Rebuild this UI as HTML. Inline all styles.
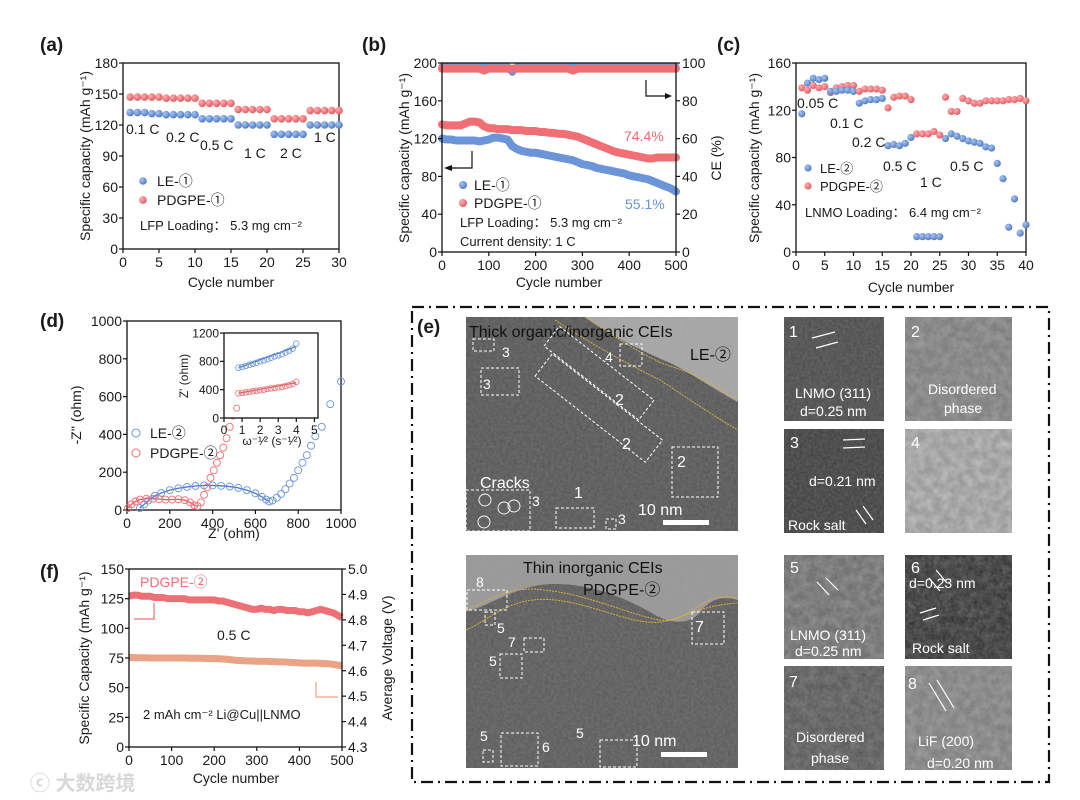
<!DOCTYPE html>
<html><head><meta charset="utf-8">
<style>
html,body{margin:0;padding:0;background:#fff;}
svg{display:block;font-family:"Liberation Sans","Noto Sans CJK SC",sans-serif;}
</style></head>
<body>
<svg id="fig" width="1080" height="800" viewBox="0 0 1080 800" xmlns="http://www.w3.org/2000/svg">
<defs>
<radialGradient id="gB" cx="0.35" cy="0.35" r="0.7"><stop offset="0" stop-color="#a9c4ee"/><stop offset="1" stop-color="#4a78c4"/></radialGradient>
<radialGradient id="gR" cx="0.35" cy="0.35" r="0.7"><stop offset="0" stop-color="#ffb0b3"/><stop offset="1" stop-color="#e0575d"/></radialGradient>
<filter id="noise" x="0" y="0" width="100%" height="100%">
<feTurbulence type="fractalNoise" baseFrequency="0.35" numOctaves="2" seed="3"/>
<feColorMatrix type="matrix" values="0 0 0 0 0.4  0 0 0 0 0.4  0 0 0 0 0.4  0.6 0 0 0 0"/>
</filter>
<filter id="noise2" x="0" y="0" width="100%" height="100%">
<feTurbulence type="fractalNoise" baseFrequency="0.12" numOctaves="2" seed="7"/>
<feColorMatrix type="matrix" values="0 0 0 0 0.95  0 0 0 0 0.95  0 0 0 0 0.95  1.2 0 0 0 -0.35"/>
</filter>
</defs>
<g id="root"></g>
</svg>
<script>
// ---------- data ----------
const aCycles=[1,2,3,4,5,6,7,8,9,10,11,12,13,14,15,16,17,18,19,20,21,22,23,24,25,26,27,28,29,30];
const aLE=[132,132,132,131,131,130,130,130,130,130,126,126,126,126,126,120,120,120,120,120,111,111,111,111,111,120,120,120,120,120];
const aPD=[147,147,147,147,147,146,146,146,146,146,141,141,141,141,141,135,135,135,135,135,126,126,126,126,126,134,134,134,134,134];
const bCycles=[0,10,20,30,40,50,60,70,80,90,100,110,120,130,140,150,160,170,180,190,200,210,220,230,240,250,260,270,280,290,300,310,320,330,340,350,360,370,380,390,400,410,420,430,440,450,460,470,480,490,500];
const bLE=[120,119,119,118,118,118,118,118,117,118,119,121,121,120,119,112,109,107,106,105,105,104,103,102,101,100,99,98,97,95,93,92,91,89,88,87,86,85,84,83,81,80,79,78,77,75,73,71,69,67,64];
const bPD=[135,134,134,134,134,136,138,138,137,133,131,131,130,130,130,129,129,129,128,128,128,127,127,126,126,125,125,124,123,122,120,118,116,114,112,110,108,106,105,104,103,102,101,100,99,99,100,100,100,100,100];
const bCELE=[98,98,98,98,98,98,98,98,98,98,98,98,98,98,98,95,98,98,98,98,98,98,98,98,98,98,98,98,98,98,98,98,98,98,98,98,98,98,98,98,98,98,98,98,98,98,98,98,98,98,98];
const bCEPD=[97,97,97,97,97,97,97,97,97,96,97,97,97,97,97,97,97,97,97,97,97,97,97,97,97,97,97,97,96,97,97,97,97,97,97,97,97,97,97,97,97,97,97,97,97,97,97,97,97,97,97];
const cCycles=[1,2,3,4,5,6,7,8,9,10,11,12,13,14,15,16,17,18,19,20,21,22,23,24,25,26,27,28,29,30,31,32,33,34,35,36,37,38,39,40];
const cLE=[117,143,147,146,147,136,136,137,137,136,126,128,129,129,130,90,91,90,92,97,13,13,13,13,13,96,100,98,96,94,93,92,89,88,75,62,21,45,16,23];
const cPD=[139,137,141,139,140,135,139,140,141,141,136,138,138,138,137,122,131,132,132,129,100,100,100,102,99,131,119,119,130,128,126,126,128,128,128,128,129,129,130,128];
const dLEx=[60,80,100,130,160,200,240,280,320,360,400,440,480,520,560,600,630,650,665,680,700,720,740,760,780,800,820,840,860,880,910,950,1000];
const dLEy=[10,30,50,75,90,105,115,122,127,130,130,128,124,117,105,88,70,55,45,50,65,85,110,140,170,210,250,290,340,390,440,560,680];
const dPDx=[5,20,40,60,90,120,150,180,210,240,270,295,315,330,345,360,375,390,405,420,435,450,465,480,495];
const dPDy=[10,30,45,55,60,60,58,55,55,57,52,40,25,20,40,80,120,170,210,250,290,330,380,440,500];
const iX=[0.8,1.0,1.2,1.4,1.6,1.8,2.0,2.2,2.4,2.6,2.8,3.0,3.2,3.4,3.6,3.8,4.0];
const iLE=[710,720,735,750,765,780,800,815,830,850,870,885,900,925,950,980,1050];
const iPD=[350,355,362,370,378,385,392,400,410,418,425,433,440,450,465,480,510];
const iPDout=[0.7,140];
const fCycles=bCycles;
const fCap=[127,128,128,127,127,127,126,126,126,125,125,125,125,125,124,124,124,124,124,124,124,123,123,122,121,120,119,118,117,116,116,117,116,116,115,116,116,115,115,115,114,114,113,114,115,116,115,114,113,111,109];
const fVolt=[4.652,4.652,4.651,4.651,4.651,4.650,4.650,4.650,4.650,4.650,4.650,4.650,4.650,4.650,4.649,4.649,4.649,4.649,4.648,4.648,4.648,4.647,4.646,4.645,4.643,4.641,4.640,4.639,4.638,4.638,4.637,4.637,4.637,4.636,4.636,4.635,4.635,4.634,4.633,4.632,4.631,4.630,4.630,4.630,4.630,4.629,4.628,4.627,4.625,4.622,4.620];
const aXTicks=[0,5,10,15,20,25,30], aYTicks=[0,30,60,90,120,150,180];
const bXTicks=[0,100,200,300,400,500], bYTicks=[0,40,80,120,160,200], bRTicks=[0,20,40,60,80,100];
const cXTicks=[0,5,10,15,20,25,30,35,40], cYTicks=[0,40,80,120,160];
const dXTicks=[0,200,400,600,800,1000], dYTicks=[0,200,400,600,800,1000];
const iXTicks=[0,1,2,3,4,5], iYTicks=[0,400,800,1200];
const fXTicks=[0,100,200,300,400,500], fYTicks=[0,25,50,75,100,125,150], fRTicks=["4.3","4.4","4.5","4.6","4.7","4.8","4.9","5.0"];

// ---------- helpers ----------
const NS="http://www.w3.org/2000/svg";
const root=document.getElementById('root');
function mk(parent,tag,attrs){const e=document.createElementNS(NS,tag);for(const k in attrs)e.setAttribute(k,attrs[k]);parent.appendChild(e);return e;}
function txt(parent,x,y,s,size,extra){const t=mk(parent,'text',Object.assign({x:x,y:y,'font-size':size,fill:'#1a1a1a'},extra||{}));t.textContent=s;return t;}
function lin(x0,x1,p0,p1){return v=>p0+(v-x0)/(x1-x0)*(p1-p0);}
function frame(g,L,T,R,B){const r=mk(g,'rect',{x:L,y:T,width:R-L,height:B-T,fill:'none',stroke:'#111','stroke-width':1.3});}
function xAxis(g,ticks,sx,B,size){ticks.forEach(v=>{const x=sx(v);const l=mk(g,'line',{x1:x,x2:x,y1:B,y2:B+4,stroke:'#111','stroke-width':1.2});const t=txt(g,x,B+4+size,String(v),size,{'text-anchor':'middle'});});}
function yAxis(g,ticks,sy,L,size){ticks.forEach(v=>{const y=sy(v);const l=mk(g,'line',{x1:L-4,x2:L,y1:y,y2:y,stroke:'#111','stroke-width':1.2});const t=txt(g,L-5,y+size*0.36,String(v),size,{'text-anchor':'end'});});}
function rAxis(g,ticks,sy,R,size){ticks.forEach(v=>{const y=sy(parseFloat(v));const l=mk(g,'line',{x1:R,x2:R+4,y1:y,y2:y,stroke:'#111','stroke-width':1.2});const t=txt(g,R+6,y+size*0.36,String(v),size);});}
function vtitle(g,x,y,s,size){return txt(g,x,y,s,size,{'text-anchor':'middle',transform:`rotate(-90 ${x} ${y})`});}
function ball(g,x,y,r,grad){return mk(g,'circle',{cx:x,cy:y,r:r,fill:`url(#${grad})`});}

// ---------- panel a ----------
(function(){
const g=mk(root,'g',{});
const L=123,R=339,T=63,B=249;const sx=lin(0,30,L,R),sy=lin(0,180,B,T);
let t=txt(g,40,51,'(a)',19,{'font-weight':'bold'});
frame(g,L,T,R,B);xAxis(g,aXTicks,sx,B,14);yAxis(g,aYTicks,sy,L,14);
t=txt(g,231,287,'Cycle number',14,{'text-anchor':'middle'});
t=vtitle(g,90,156,'Specific capacity (mAh g\u207B\u00B9)',14);
aCycles.forEach((c,i)=>{let m=ball(g,sx(c),sy(aPD[i]),3.8,'gR');m=ball(g,sx(c),sy(aLE[i]),3.8,'gB');});
[['0.1 C',126,134],['0.2 C',166,142],['0.5 C',200,150],['1 C',244,158],['2 C',280,158],['1 C',314,142]].forEach(a=>{const e=txt(g,a[1],a[2],a[0],14);});
let m=ball(g,143,181,3.8,'gB');
t=txt(g,157,186,'LE-\u2460',14);
m=ball(g,143,200,3.8,'gR');
t=txt(g,157,205,'PDGPE-\u2460',14);
t=txt(g,140,230,'LFP Loading\uFF1A 5.3 mg cm\u207B\u00B2',13);
})();

// ---------- panel b ----------
(function(){
const g=mk(root,'g',{});
const L=442,R=676,T=63,B=252;const sx=lin(0,500,L,R),sy=lin(0,200,B,T),sr=lin(0,100,B,T);
let t=txt(g,362,51,'(b)',19,{'font-weight':'bold'});
function band(arr,scale,col,w,name){const p=mk(g,'polyline',{points:bCycles.map((c,i)=>sx(c)+','+scale(arr[i])).join(' '),fill:'none',stroke:col,'stroke-width':w,'stroke-linejoin':'round','stroke-linecap':'round'});}
band(bCELE,sr,'#6e96d8',7,'le-ce-series');band(bCEPD,sr,'#ef6f74',8,'pdgpe-ce-series');
band(bPD,sy,'#ef6f74',8,'pdgpe-capacity-series');band(bLE,sy,'#6b95d8',8,'le-capacity-series');
frame(g,L,T,R,B);xAxis(g,bXTicks,sx,B,14);yAxis(g,bYTicks,sy,L,14);rAxis(g,bRTicks,sr,R,14);
t=txt(g,559,287,'Cycle number',14,{'text-anchor':'middle'});
t=vtitle(g,409,158,'Specific capacity (mAh g\u207B\u00B9)',14);
t=vtitle(g,721,158,'CE (%)',14);
let p=mk(g,'polyline',{points:'472,151 472,168 448,168',fill:'none',stroke:'#111','stroke-width':1.2});
p=mk(g,'polygon',{points:'444,168 452,165 452,171',fill:'#111'});
p=mk(g,'polyline',{points:'646,80 646,96 668,96',fill:'none',stroke:'#111','stroke-width':1.2});
p=mk(g,'polygon',{points:'672,96 665,93 665,99',fill:'#111'});
t=txt(g,624,141,'74.4%',14,{fill:'#e86a70'});
t=txt(g,625,209,'55.1%',14,{fill:'#6a95d6'});
let m=ball(g,463,185,4,'gB');
t=txt(g,474,190,'LE-\u2460',14);
m=ball(g,463,203,4,'gR');
t=txt(g,474,208,'PDGPE-\u2460',14);
t=txt(g,460,227,'LFP Loading\uFF1A 5.3 mg cm\u207B\u00B2',13);
t=txt(g,460,246,'Current density: 1 C',13);
})();

// ---------- panel c ----------
(function(){
const g=mk(root,'g',{});
const L=796,R=1026,T=63,B=252;const sx=lin(0,40,L,R),sy=lin(0,160,B,T);
let t=txt(g,717,51,'(c)',19,{'font-weight':'bold'});
frame(g,L,T,R,B);xAxis(g,cXTicks,sx,B,14);yAxis(g,cYTicks,sy,L,14);
t=txt(g,911,292,'Cycle number',14,{'text-anchor':'middle'});
t=vtitle(g,759,158,'Specific capacity (mAh g\u207B\u00B9)',14);
cCycles.forEach((c,i)=>{let m=ball(g,sx(c),sy(cPD[i]),3.6,'gR');m=ball(g,sx(c),sy(cLE[i]),3.6,'gB');});
[['0.05 C',797,108],['0.1 C',830,128],['0.2 C',852,147],['0.5 C',883,171],['0.5 C',950,171],['1 C',920,187]].forEach(a=>{const e=txt(g,a[1],a[2],a[0],14);});
let m=ball(g,808,168,3.6,'gB');
t=txt(g,820,173,'LE-\u2461',13);
m=ball(g,808,186,3.6,'gR');
t=txt(g,820,191,'PDGPE-\u2461',13);
t=txt(g,805,217,'LNMO Loading\uFF1A 6.4 mg cm\u207B\u00B2',13);
})();

// ---------- panel d ----------
(function(){
const g=mk(root,'g',{});
const L=127,R=341,T=321,B=510;const sx=lin(0,1000,L,R),sy=lin(0,1000,B,T);
let t=txt(g,40,327,'(d)',19,{'font-weight':'bold'});
frame(g,L,T,R,B);xAxis(g,dXTicks,sx,B,14);yAxis(g,dYTicks,sy,L,14);
t=txt(g,234,538,"Z' (ohm)",14,{'text-anchor':'middle'});
t=vtitle(g,81,415,"-Z'' (ohm)",14);
let p=mk(g,'polyline',{points:dLEx.slice(0,19).map((x,i)=>sx(x)+','+sy(dLEy[i])).join(' '),fill:'none',stroke:'#4a78c4','stroke-width':1.3});
p=mk(g,'polyline',{points:dPDx.slice(0,14).map((x,i)=>sx(x)+','+sy(dPDy[i])).join(' '),fill:'none',stroke:'#e0575d','stroke-width':1.3});
dLEx.forEach((x,i)=>{const c=mk(g,'circle',{cx:sx(x),cy:sy(dLEy[i]),r:3.5,fill:'none',stroke:'#6b95d8','stroke-width':0.9});});
dPDx.forEach((x,i)=>{const c=mk(g,'circle',{cx:sx(x),cy:sy(dPDy[i]),r:3.5,fill:'none',stroke:'#ef6f74','stroke-width':0.9});});
let c=mk(g,'circle',{cx:136,cy:433,r:4,fill:'none',stroke:'#6b95d8'});
t=txt(g,150,438,'LE-\u2461',14);
c=mk(g,'circle',{cx:136,cy:453,r:4,fill:'none',stroke:'#ef6f74'});
t=txt(g,150,458,'PDGPE-\u2461',14);
const ig=mk(g,'g',{});
const iL=224,iR=318,iT=333,iB=418;const ix=lin(0,5.2,iL,iR),iy=lin(0,1200,iB,iT);
let bg=mk(ig,'rect',{x:iL,y:iT,width:iR-iL,height:iB-iT,fill:'#fff'});
frame(ig,iL,iT,iR,iB);xAxis(ig,iXTicks,ix,iB,12);yAxis(ig,iYTicks,iy,iL,12);
t=txt(ig,272,445,'\u03C9\u207B\u00B9\u2044\u00B2 (s\u207B\u00B9\u2044\u00B2)',12,{'text-anchor':'middle'});
t=vtitle(ig,188,376,"Z' (ohm)",12);
p=mk(ig,'line',{x1:ix(iX[0]),y1:iy(iLE[0]),x2:ix(iX[iX.length-1]),y2:iy(iLE[iLE.length-1]-40),stroke:'#4a78c4','stroke-width':1.3});
p=mk(ig,'line',{x1:ix(iX[0]),y1:iy(iPD[0]),x2:ix(iX[iX.length-1]),y2:iy(iPD[iPD.length-1]-10),stroke:'#e0575d','stroke-width':1.3});
iX.forEach((x,i)=>{let q=mk(ig,'circle',{cx:ix(x),cy:iy(iLE[i]),r:2.8,fill:'none',stroke:'#6b95d8','stroke-width':0.8});q=mk(ig,'circle',{cx:ix(x),cy:iy(iPD[i]),r:2.8,fill:'none',stroke:'#ef6f74','stroke-width':0.8});});
let q=mk(ig,'circle',{cx:ix(iPDout[0]),cy:iy(iPDout[1]),r:3,fill:'none',stroke:'#ef6f74','stroke-width':0.8});
})();

// ---------- panel f ----------
(function(){
const g=mk(root,'g',{});
const L=129,R=342,T=569,B=747;const sx=lin(0,500,L,R),sy=lin(0,150,B,T),sr=lin(4.3,5.0,B,T);
let t=txt(g,40,578,'(f)',19,{'font-weight':'bold'});
let p=mk(g,'polyline',{points:fCycles.map((c,i)=>sx(c)+','+sr(fVolt[i])).join(' '),fill:'none',stroke:'#eaa384','stroke-width':7,'stroke-linejoin':'round'});
p=mk(g,'polyline',{points:fCycles.map((c,i)=>sx(c)+','+sy(fCap[i])).join(' '),fill:'none',stroke:'#ee7077','stroke-width':7,'stroke-linejoin':'round'});
frame(g,L,T,R,B);xAxis(g,fXTicks,sx,B,14);yAxis(g,fYTicks,sy,L,14);rAxis(g,fRTicks,sr,R,14);
t=txt(g,236,783,'Cycle number',14,{'text-anchor':'middle'});
t=vtitle(g,89,658,'Specific Capacity (mAh g\u207B\u00B9)',14);
t=vtitle(g,392,658,'Average Voltage (V)',14);
t=txt(g,140,587,'PDGPE-\u2461',14,{fill:'#ee7077'});
t=txt(g,217,640,'0.5 C',14);
t=txt(g,143,719,'2 mAh cm\u207B\u00B2 Li@Cu||LNMO',13);
p=mk(g,'polyline',{points:'154,603 154,619 134,619',fill:'none',stroke:'#ee7077','stroke-width':1.2});
p=mk(g,'polyline',{points:'316,682 316,697 338,697',fill:'none',stroke:'#eaa384','stroke-width':1.2});
t=txt(g,30,790,'\u24D2 \u5927\u6570\u8DE8\u5883',20,{fill:'#d8d8d8','font-weight':'bold'});
})();

// ---------- panel e (TEM) ----------
(function(){
const g=mk(root,'g',{});
let fr=mk(g,'rect',{x:412,y:307,width:637,height:475,fill:'none',stroke:'#111','stroke-width':2.2,'stroke-dasharray':'12 5 2 5'});
let t=txt(g,417,333,'(e)',19,{'font-weight':'bold'});
function img(x,y,w,h,fill,name,light){const r=mk(g,'rect',{x:x,y:y,width:w,height:h,fill:fill});const n=mk(g,'rect',{x:x,y:y,width:w,height:h,filter:'url(#noise)',opacity:0.55});if(light){const n2=mk(g,'rect',{x:x,y:y,width:w,height:h,filter:'url(#noise2)',opacity:light});}}
function dbox(x,y,w,h,extra){const r=mk(g,'rect',Object.assign({x:x,y:y,width:w,height:h,fill:'none',stroke:'#fff','stroke-width':1,'stroke-dasharray':'3 2'},extra||{}));}
function lbl(x,y,s,size,col){const e=txt(g,x,y,s,size,{fill:col||'#fff'});}
img(466,317,272,214,'#555','tem-le-image',0);
let p=mk(g,'path',{d:'M585,317 L738,317 L738,402 C715,390 690,372 668,362 C640,350 610,335 585,317 Z',fill:'#c4c4c4',opacity:0.7});
p=mk(g,'path',{d:'M555,320 C600,350 640,370 660,380 C690,400 720,420 738,430',fill:'none',stroke:'#d8b040','stroke-width':1,'stroke-dasharray':'2 1'});
p=mk(g,'path',{d:'M585,317 C620,340 650,360 670,366 C700,375 720,390 738,400',fill:'none',stroke:'#d8b040','stroke-width':1,'stroke-dasharray':'2 1'});
lbl(469,337,'Thick organic/inorganic CEIs',16,'#111');lbl(690,360,'LE-\u2461',16,'#111');
dbox(473,339,21,12);lbl(502,357,'3',14);dbox(481,368,38,27);lbl(483,389,'3',14);
dbox(620,344,22,22);lbl(605,362,'4',14);
dbox(544,346,25,120,{transform:'rotate(-52 544 346)'});
dbox(535,376,28,140,{transform:'rotate(-52 535 376)'});
lbl(615,405,'2',16);lbl(622,449,'2',16);
dbox(672,447,46,50);lbl(677,467,'2',16);
lbl(480,488,'Cracks',16);dbox(466,490,64,41);lbl(532,506,'3',14);
[[485,500],[484,522],[504,508],[514,506]].forEach(a=>{const c=mk(g,'circle',{cx:a[0],cy:a[1],r:6,fill:'none',stroke:'#fff','stroke-width':0.9});});
lbl(574,498,'1',16);dbox(556,508,38,20);dbox(606,519,10,10);lbl(618,524,'3',14);
lbl(638,515,'10 nm',16);let sb=mk(g,'rect',{x:663,y:520,width:46,height:5,fill:'#fff'});
img(466,555,272,213,'#595959','tem-pdgpe-image',0);
p=mk(g,'path',{d:'M466,555 L738,555 L738,600 C720,595 710,600 700,612 C690,625 670,625 650,612 C620,595 580,580 540,585 C510,590 490,605 466,612 Z',fill:'#b0b0b0',opacity:0.7});
p=mk(g,'path',{d:'M466,610 C490,600 510,585 545,590 C590,595 630,615 660,620 C690,625 700,590 738,598',fill:'none',stroke:'#d8b040','stroke-width':1,'stroke-dasharray':'2 1'});
p=mk(g,'path',{d:'M466,630 C490,620 510,595 555,600 C600,605 640,630 670,620 C700,610 710,605 738,603',fill:'none',stroke:'#d8b040','stroke-width':1,'stroke-dasharray':'2 1'});
lbl(523,573,'Thin inorganic CEIs',16,'#111');lbl(583,595,'PDGPE-\u2461',16,'#111');
lbl(476,587,'8',14);dbox(467,590,40,20);dbox(485,612,10,13);lbl(497,633,'5',14);
lbl(508,647,'7',14);dbox(524,638,20,14);lbl(489,666,'5',14);dbox(500,654,22,24);
dbox(692,612,32,32);lbl(695,632,'7',16);
lbl(480,741,'5',14);dbox(483,750,10,12);dbox(501,733,37,33);lbl(542,752,'6',14);
lbl(576,738,'5',14);dbox(600,740,37,27);
lbl(632,746,'10 nm',16);sb=mk(g,'rect',{x:661,y:752,width:46,height:5,fill:'#fff'});
img(784,317,100,104,'#4a4a4a','tile-1',0);img(905,317,107,104,'#7a7a7a','tile-2',0.3);
img(784,429,100,104,'#3e3e3e','tile-3',0);img(905,429,107,104,'#9a9a9a','tile-4',0.5);
img(784,555,100,104,'#6a6a6a','tile-5',0.3);img(905,555,107,104,'#2c2c2c','tile-6',0.25);
img(784,666,100,104,'#555','tile-7',0.2);img(905,666,107,104,'#7c7c7c','tile-8',0.3);
function ln(x1,y1,x2,y2){const l=mk(g,'line',{x1:x1,y1:y1,x2:x2,y2:y2,stroke:'#fff','stroke-width':1.2});}
lbl(789,337,'1',16);ln(812,338,835,332);ln(816,348,838,342);lbl(795,398,'LNMO (311)',14);lbl(800,416,'d=0.25 nm',14);
lbl(911,337,'2',16);lbl(928,394,'Disordered',14);lbl(944,413,'phase',14);
lbl(790,448,'3',16);ln(843,440,865,439);ln(843,448,865,447);lbl(809,486,'d=0.21 nm',14);lbl(788,530,'Rock salt',14);ln(856,510,866,524);ln(863,506,873,520);
lbl(911,448,'4',16);
lbl(790,573,'5',16);ln(817,582,829,595);ln(826,578,838,590);lbl(790,640,'LNMO (311)',14);lbl(795,656,'d=0.25 nm',14);
lbl(911,573,'6',16);ln(936,570,947,583);ln(929,578,940,591);lbl(909,588,'d=0.23 nm',14);ln(920,613,936,608);ln(923,620,939,615);lbl(912,653,'Rock salt',14);
lbl(789,687,'7',16);lbl(796,742,'Disordered',14);lbl(811,763,'phase',14);
lbl(908,689,'8',16);ln(929,683,946,711);ln(937,680,954,708);lbl(918,746,'LiF (200)',14);lbl(927,768,'d=0.20 nm',14);
})();
</script>
</body></html>
